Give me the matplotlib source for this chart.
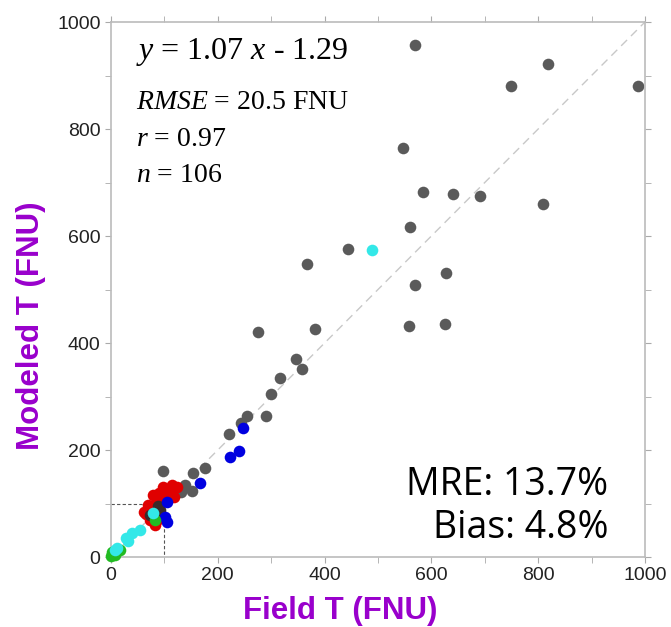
"""
Scatter of modeled vs field turbidity (FNU) with 1:1 line and stats.
"""
import matplotlib
matplotlib.use("Agg")
import matplotlib.pyplot as plt

plt.rcParams["mathtext.fontset"] = "custom"
plt.rcParams["mathtext.rm"] = "Liberation Serif"
plt.rcParams["mathtext.it"] = "Liberation Serif:italic"

# field (x) and modeled (y) turbidity, grouped by point colour
gray_x = [569, 818, 749, 987, 547, 584, 640, 691, 809, 560, 627, 569, 444, 367,
          275, 382, 558, 625, 347, 358, 317, 299, 255, 290, 243, 221, 97, 154,
          176, 139, 152, 132]
gray_y = [957, 922, 880, 880, 764, 682, 679, 675, 660, 617, 531, 508, 576, 548,
          421, 426, 432, 436, 370, 351, 335, 305, 264, 264, 251, 230, 161, 157,
          166, 135, 124, 122]
dark_x = [73, 92, 88]
dark_y = [78, 88, 95]
red_x = [79, 98, 114, 110, 123, 61, 70, 86, 95, 73, 82, 86, 104, 118, 66, 90]
red_y = [116, 131, 135, 119, 130, 85, 97, 107, 110, 69, 60, 69, 125, 112, 80, 120]
blue_x = [247, 240, 223, 167, 104, 101, 104]
blue_y = [241, 198, 187, 138, 103, 75, 66]
green_x = [82, 1, 17, 0, 8]
green_y = [69, 10, 13, 1, 4]
cyan_x = [489, 79, 54, 39, 29, 7, 11, 32]
cyan_y = [574, 82, 50, 44, 35, 13, 17, 30]

stats_lines = [r"$RMSE$ = 20.5 FNU", r"$r$ = 0.97", r"$n$ = 106"]

fig = plt.figure(figsize=(6.71, 6.27), dpi=100)
ax = fig.add_axes([0.1654, 0.1116, 0.7958, 0.8533])

ax.plot([0, 1000], [0, 1000], ls=(0, (6, 4)), color="#c8c8c8", lw=1.0, zorder=1)
ax.plot([0, 100, 100], [100, 100, 0], ls=(0, (3, 2)), color="#555555", lw=0.8,
        zorder=1)

ms = 70
ax.scatter(gray_x, gray_y, s=ms, color="#5a5a5a", lw=0, zorder=2)
ax.scatter(red_x, red_y, s=ms, color="#e00000", lw=0, zorder=3)
ax.scatter(dark_x, dark_y, s=ms, color="#3a2a2a", lw=0, zorder=3)
ax.scatter(blue_x, blue_y, s=ms, color="#0000e0", lw=0, zorder=4)
ax.scatter(green_x, green_y, s=ms, color="#22bb22", lw=0, zorder=4,
           clip_on=False)
ax.scatter(cyan_x, cyan_y, s=ms, color="#33e8e8", lw=0, zorder=5,
           clip_on=False)

ax.set_xlim(0, 1000)
ax.set_ylim(0, 1000)
ax.set_xticks(range(0, 1001, 200))
ax.set_yticks(range(0, 1001, 200))
ax.set_xticks(range(100, 1000, 200), minor=True)
ax.set_yticks(range(100, 1000, 200), minor=True)
ax.tick_params(which="both", direction="out", length=4, color="#aaaaaa",
               top=True, right=True, labelsize=14, labelcolor="#222222")
for lab in ax.get_xticklabels() + ax.get_yticklabels():
    lab.set_family("Liberation Sans")
for sp in ax.spines.values():
    sp.set_color("#bbbbbb")
    sp.set_linewidth(1.2)

ax.set_xlabel("Field T (FNU)", fontsize=22.5, fontweight="bold",
              color="#9900cc", family="Liberation Sans", va="center")
ax.set_ylabel("Modeled T (FNU)", fontsize=22.5, fontweight="bold",
              color="#9900cc", family="Liberation Sans", va="center",
              ha="center")
ax.xaxis.set_label_coords(0.429, -0.101)
ax.yaxis.set_label_coords(-0.150, 0.432)

ax.text(0.047, 0.944, r"$y$ = 1.07 $x$ - 1.29", transform=ax.transAxes,
        fontsize=23, family="Liberation Serif", va="center")
for i, line in enumerate(stats_lines):
    ax.text(0.047, 0.849 - i * 0.068, line, transform=ax.transAxes,
            fontsize=20, family="Liberation Serif", va="center")

ax.text(0.931, 0.135, "MRE: 13.7%", transform=ax.transAxes, fontsize=27,
        family="Open Sans", ha="right", va="center")
ax.text(0.931, 0.054, "Bias: 4.8%", transform=ax.transAxes, fontsize=27,
        family="Open Sans", ha="right", va="center")

fig.savefig("out.png", dpi=100)
